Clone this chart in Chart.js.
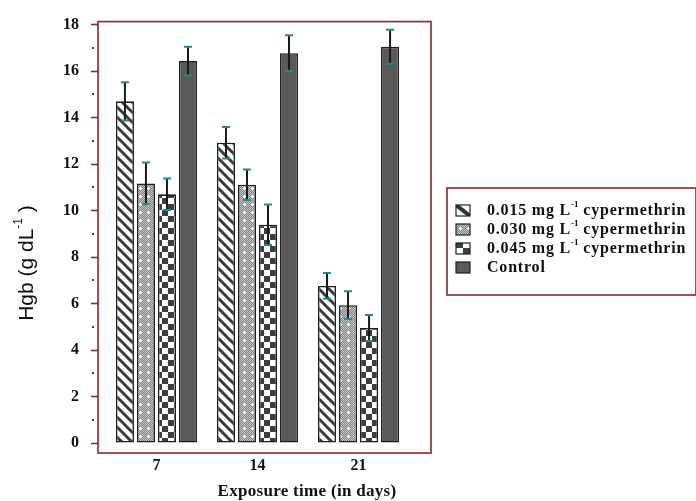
<!DOCTYPE html>
<html><head><meta charset="utf-8">
<script src="https://cdn.jsdelivr.net/npm/chart.js@4.4.0/dist/chart.umd.min.js"></script>
<style>html,body{margin:0;padding:0;background:#fff;}#wrap{width:696px;height:501px;position:relative}</style>
</head><body><div id="wrap"><canvas id="c" width="696" height="501"></canvas></div>
<script>
// ---- data ----
const categories = [7, 14, 21];
const seriesLabels = ['0.015 mg L', '0.030 mg L', '0.045 mg L', 'Control'];
const low015 = [14.70, 12.92, 6.76];
const low015Err = [0.82, 0.68, 0.55];
const mid030 = [11.17, 11.11, 5.93];
const mid030Err = [0.90, 0.66, 0.60];
const high045 = [10.70, 9.39, 4.95];
const high045Err = [0.68, 0.87, 0.56];
const control = [16.43, 16.77, 17.05];
const controlErr = [0.62, 0.77, 0.73];
const yTickValues = [0, 2, 4, 6, 8, 10, 12, 14, 16, 18];
const yTitle = 'Hgb (g dL';
const xTitle = 'Exposure time (in days)';

// ---- styles ----
const FRAME = '#8c2626';
const SERIF = '"Liberation Serif", "Times New Roman", serif';
const SANS = '"Liberation Sans", Arial, sans-serif';

function makeTile(w, h, draw) {
  const c = document.createElement('canvas'); c.width = w; c.height = h;
  const g = c.getContext('2d'); draw(g, w, h);
  return document.getElementById('c').getContext('2d').createPattern(c, 'repeat');
}
const diagPattern = makeTile(10, 10, (g) => {
  g.fillStyle = '#fff'; g.fillRect(0, 0, 10, 10);
  g.strokeStyle = '#3a3a3a'; g.lineWidth = 3.0;
  for (let k = -1; k <= 1; k++) { g.beginPath(); g.moveTo(-5, -5 + 10 * k); g.lineTo(15, 15 + 10 * k); g.stroke(); }
});
const dotPattern = makeTile(8, 8, (g) => {
  for (let x = 0; x < 8; x++) for (let y = 0; y < 8; y++) {
    g.fillStyle = (x + y) % 2 ? '#808080' : '#c8c8c8'; g.fillRect(x, y, 1, 1);
  }
  g.fillStyle = '#fff'; g.fillRect(4, 3, 1, 3); g.fillRect(3, 4, 3, 1);
});
const checkPattern = makeTile(12, 12, (g) => {
  g.fillStyle = '#fff'; g.fillRect(0, 0, 12, 12);
  g.fillStyle = '#3e3e3e'; g.fillRect(0, 0, 6, 6); g.fillRect(6, 6, 6, 6);
});
const fills = [diagPattern, dotPattern, checkPattern, '#595959'];
const seriesValues = [low015, mid030, high045, control];
const seriesErrs = [low015Err, mid030Err, high045Err, controlErr];

const datasets = seriesValues.map((vals, i) => ({
  label: seriesLabels[i],
  data: categories.map((c, j) => ({ x: c, y: vals[j] })),
  backgroundColor: fills[i],
  borderColor: '#1e1e1e',
  borderWidth: 1.6,
  borderSkipped: false,
  categoryPercentage: 0.832,
  barPercentage: 0.86
}));

function drawSupText(ctx, parts, x, y, size, family, weight, spacing) {
  let cx = x;
  parts.forEach(([t, sup]) => {
    const s = sup ? Math.round(size * 0.55) : size;
    ctx.font = `${weight} ${s}px ${family}`;
    ctx.letterSpacing = (sup ? 0 : spacing || 0) + 'px';
    ctx.fillText(t, cx, sup ? y - size * 0.4 : y);
    cx += ctx.measureText(t).width;
  });
  ctx.letterSpacing = '0px';
  return cx - x;
}
function measureSup(ctx, parts, size, family, weight, spacing) {
  let w = 0;
  parts.forEach(([t, sup]) => {
    const s = sup ? Math.round(size * 0.55) : size;
    ctx.font = `${weight} ${s}px ${family}`;
    ctx.letterSpacing = (sup ? 0 : spacing || 0) + 'px';
    w += ctx.measureText(t).width;
  });
  ctx.letterSpacing = '0px';
  return w;
}

const decor = {
  id: 'decor',
  afterDatasetsDraw(chart) {
    const ctx = chart.ctx, ys = chart.scales.y;
    chart.data.datasets.forEach((ds, i) => {
      const meta = chart.getDatasetMeta(i);
      meta.data.forEach((bar, j) => {
        const v = seriesValues[i][j], e = seriesErrs[i][j];
        const yt = ys.getPixelForValue(v + e), yb = ys.getPixelForValue(v - e);
        ctx.save();
        ctx.strokeStyle = '#1a1a1a'; ctx.lineWidth = 2;
        ctx.beginPath(); ctx.moveTo(bar.x, yt); ctx.lineTo(bar.x, yb); ctx.stroke();
        ctx.strokeStyle = '#1f8b8b'; ctx.lineWidth = 2;
        ctx.beginPath(); ctx.moveTo(bar.x - 4, yt); ctx.lineTo(bar.x + 4, yt);
        ctx.moveTo(bar.x - 4, yb); ctx.lineTo(bar.x + 4, yb); ctx.stroke();
        ctx.restore();
      });
    });
  },
  afterDraw(chart) {
    const ctx = chart.ctx, a = chart.chartArea, ys = chart.scales.y;
    ctx.save();
    ctx.strokeStyle = FRAME; ctx.lineWidth = 1.6;
    ctx.strokeRect(a.left, a.top, a.right - a.left, a.bottom - a.top);
    ctx.fillStyle = FRAME;
    for (let v = 1; v < 18; v += 2) {
      const y = ys.getPixelForValue(v);
      ctx.fillRect(a.left - 6, Math.round(y) - 1, 2, 2);
    }
    // y title
    ctx.fillStyle = '#111';
    ctx.save();
    ctx.translate(27, 263); ctx.rotate(-Math.PI / 2);
    ctx.textBaseline = 'middle';
    const yParts = [[yTitle, false], ['-1', true], [' )', false]];
    const wy = measureSup(ctx, yParts, 21, SANS, 'normal', 0);
    drawSupText(ctx, yParts, -wy / 2, 0, 21, SANS, 'normal', 0);
    ctx.restore();
    // x title
    ctx.textBaseline = 'middle'; ctx.textAlign = 'center';
    ctx.font = `bold 17px ${SERIF}`;
    ctx.letterSpacing = '0.3px';
    ctx.fillText(xTitle, 307, 492);
    ctx.letterSpacing = '0px';
    ctx.textAlign = 'left';
    // legend
    ctx.strokeStyle = FRAME; ctx.lineWidth = 1.6;
    ctx.strokeRect(447, 188, 249, 107);
    const rows = [210, 229, 248, 267];
    rows.forEach((cy, i) => {
      const sx = 456, sy = cy - 5, sw = 14, sh = 11;
      ctx.save();
      ctx.beginPath(); ctx.rect(sx, sy, sw, sh); ctx.clip();
      if (i === 0) {
        ctx.fillStyle = '#fff'; ctx.fillRect(sx, sy, sw, sh);
        ctx.strokeStyle = '#333'; ctx.lineWidth = 4;
        ctx.beginPath(); ctx.moveTo(sx, sy); ctx.lineTo(sx + sw, sy + sh); ctx.stroke();
      } else if (i === 1) {
        ctx.fillStyle = dotPattern; ctx.fillRect(sx, sy, sw, sh);
      } else if (i === 2) {
        ctx.fillStyle = '#fff'; ctx.fillRect(sx, sy, sw, sh);
        ctx.fillStyle = '#3e3e3e'; ctx.fillRect(sx, sy, 7, 5); ctx.fillRect(sx + 7, sy + 5, 7, 6);
      } else {
        ctx.fillStyle = '#595959'; ctx.fillRect(sx, sy, sw, sh);
      }
      ctx.restore();
      ctx.strokeStyle = '#1e1e1e'; ctx.lineWidth = 1.2;
      ctx.strokeRect(sx, sy, sw, sh);
      ctx.fillStyle = '#111'; ctx.textBaseline = 'middle';
      if (i < 3) {
        drawSupText(ctx, [[seriesLabels[i], false], ['-1', true], [' cypermethrin', false]], 487, cy + 1, 16, SERIF, 'bold', 0.8);
      } else {
        ctx.font = `bold 16px ${SERIF}`; ctx.letterSpacing = '0.8px';
        ctx.fillText(seriesLabels[i], 487, cy + 1);
        ctx.letterSpacing = '0px';
      }
    });
    ctx.restore();
  }
};

new Chart(document.getElementById('c'), {
  type: 'bar',
  data: { datasets },
  options: {
    responsive: false, animation: false, devicePixelRatio: 1,
    layout: { padding: { top: 21, right: 265, left: 0, bottom: 0 } },
    plugins: { legend: { display: false }, tooltip: { enabled: false } },
    scales: {
      x: {
        type: 'linear', min: 2.95, max: 26.02, offset: false,
        afterBuildTicks: (s) => { s.ticks = categories.map(v => ({ value: v })); },
        afterFit: (s) => { s.height = 48; },
        grid: { display: false, drawTicks: false, offset: false },
        border: { display: false },
        ticks: { color: '#111', font: { family: SERIF, size: 16, weight: 'bold' }, padding: 3, maxRotation: 0, autoSkip: false, callback: (v) => String(v) }
      },
      y: {
        min: -0.43, max: 18.13,
        afterBuildTicks: (s) => { s.ticks = yTickValues.map(v => ({ value: v })); },
        afterFit: (s) => { s.width = 98; },
        grid: { drawOnChartArea: false, drawTicks: true, tickLength: 7, tickColor: FRAME, tickWidth: 1.6 },
        border: { display: false },
        ticks: { color: '#111', font: { family: SERIF, size: 16, weight: 'bold' }, padding: 12, autoSkip: false, callback: (v) => String(v) }
      }
    }
  },
  plugins: [decor]
});
</script></body></html>
